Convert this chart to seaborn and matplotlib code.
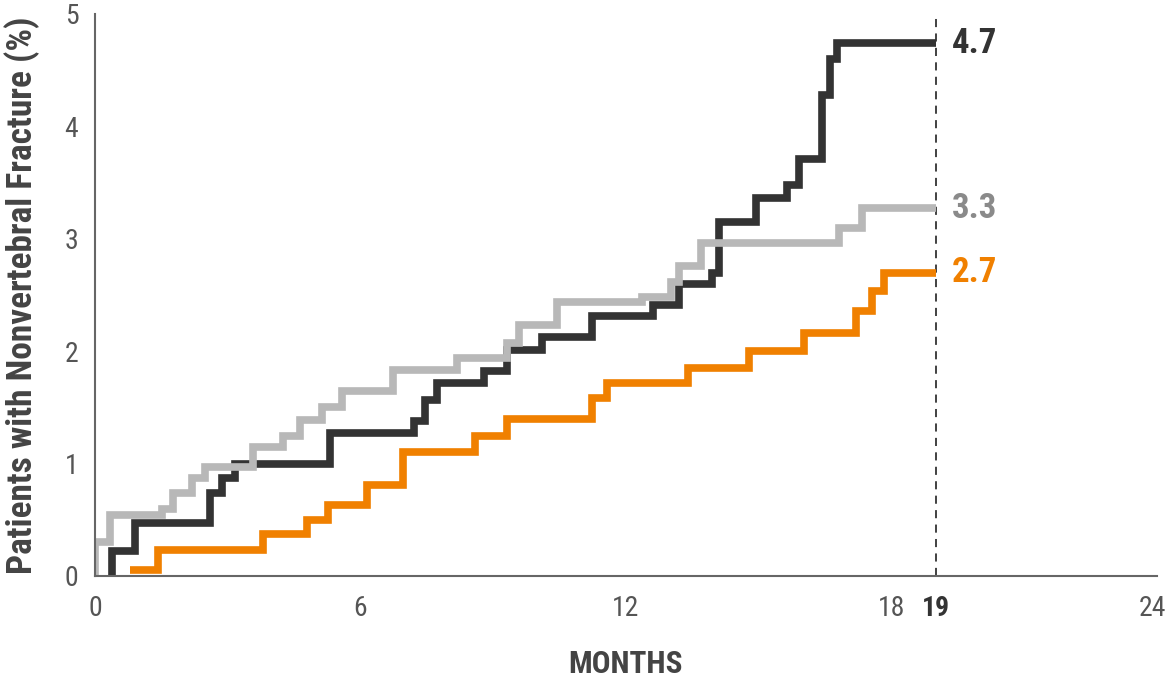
import numpy as np
import pandas as pd
import matplotlib
matplotlib.use("Agg")
import matplotlib.pyplot as plt
import matplotlib.transforms as mtransforms
import seaborn as sns

# step points (month where the curve changes, new value in %)
dark_x = [0.38, 0.38, 0.9, 2.6, 2.87, 3.16, 5.3, 7.22, 7.45, 7.72, 8.8, 9.32, 10.1, 11.24,
          12.6, 13.2, 13.95, 14.1, 14.94, 15.64, 15.91, 16.43, 16.6, 16.77, 19]
dark_y = [0, 0.22, 0.47, 0.74, 0.87, 1.0, 1.27, 1.38, 1.57, 1.72, 1.82, 2.01, 2.13, 2.31,
          2.41, 2.6, 2.7, 3.15, 3.36, 3.48, 3.71, 4.28, 4.6, 4.74, 4.74]

gray_x = [0, 0, 0.34, 1.51, 1.76, 2.19, 2.48, 3.57, 4.24, 4.63, 5.12, 5.58, 6.73, 8.19,
          9.3, 9.59, 10.43, 12.37, 13.02, 13.2, 13.7, 16.82, 17.34, 19]
gray_y = [0, 0.3, 0.54, 0.6, 0.74, 0.87, 0.97, 1.15, 1.25, 1.39, 1.5, 1.65, 1.83, 1.94,
          2.07, 2.23, 2.44, 2.48, 2.62, 2.76, 2.96, 3.1, 3.27, 3.27]

orange_x = [0.79, 1.42, 3.79, 4.79, 5.26, 6.14, 6.95, 8.58, 9.32, 11.24, 11.56, 13.39,
            14.79, 16.03, 17.2, 17.56, 17.83, 19]
orange_y = [0.05, 0.23, 0.37, 0.5, 0.63, 0.81, 1.1, 1.25, 1.4, 1.58, 1.72, 1.85,
            2.0, 2.16, 2.36, 2.54, 2.7, 2.7]

series_names = ["dark", "gray", "orange"]
end_labels = ["4.7", "3.3", "2.7"]
line_colors = ["#333333", "#b8b8b8", "#f08000"]
label_colors = ["#333333", "#8a8a8a", "#f08000"]

cutoff = 19
x_ticks = [0, 6, 12, 18, 19, 24]
y_ticks = [0, 1, 2, 3, 4, 5]

frames = []
for name, xs, ys in zip(series_names, [dark_x, gray_x, orange_x], [dark_y, gray_y, orange_y]):
    frames.append(pd.DataFrame({"month": xs, "pct": ys, "arm": name}))
df = pd.concat(frames, ignore_index=True)

sns.set_style("white")
plt.rcParams["font.family"] = ["Roboto Condensed", "Liberation Sans Narrow", "Roboto", "DejaVu Sans"]

fig = plt.figure(figsize=(11.69, 6.8), dpi=100)
ax = fig.add_axes([95 / 1169, 1 - 576 / 680, 1062 / 1169, 562 / 680])

sns.lineplot(data=df, x="month", y="pct", hue="arm", hue_order=series_names,
             palette=dict(zip(series_names, line_colors)), estimator=None,
             drawstyle="steps-post", linewidth=5.5, legend=False, ax=ax,
             solid_capstyle="butt", solid_joinstyle="miter")

ax.axvline(cutoff, color="#333333", lw=1.3, ls=(0, (4.5, 3.5)), zorder=1)

for xs, ys, lab, col in zip([dark_x, gray_x, orange_x], [dark_y, gray_y, orange_y],
                            end_labels, label_colors):
    ax.text(xs[-1] + 0.37, ys[-1], lab, color=col, fontsize=25, fontweight="bold",
            ha="left", va="center")

ax.set_xlim(0, 24)
ax.set_ylim(0, 5)
ax.set_xticks(x_ticks)
ax.set_xticklabels([str(t) for t in x_ticks])
ax.set_yticks(y_ticks)
ax.tick_params(axis="both", length=0, labelsize=20, labelcolor="#555555")
ax.tick_params(axis="x", pad=14)
ax.tick_params(axis="y", pad=12)
shift_left = mtransforms.ScaledTranslation(-5 / 100, 0, fig.dpi_scale_trans)
for t in ax.get_xticklabels():
    if t.get_text() == str(cutoff):
        t.set_fontweight("bold")
        t.set_color("#333333")
    if t.get_text() == str(x_ticks[-1]):
        t.set_transform(t.get_transform() + shift_left)

for s in ["top", "right"]:
    ax.spines[s].set_visible(False)
for s in ["left", "bottom"]:
    ax.spines[s].set_color("#666666")
    ax.spines[s].set_linewidth(1.5)

ax.set_xlabel("MONTHS", fontsize=22.5, fontweight="bold", color="#444444")
ax.set_ylabel("Patients with Nonvertebral Fracture (%)", fontsize=25.5,
              fontweight="bold", color="#444444")
ax.xaxis.set_label_coords(0.5, -0.13)
ax.yaxis.set_label_coords(-0.052, 0.5)

fig.savefig("out.png", dpi=100)
